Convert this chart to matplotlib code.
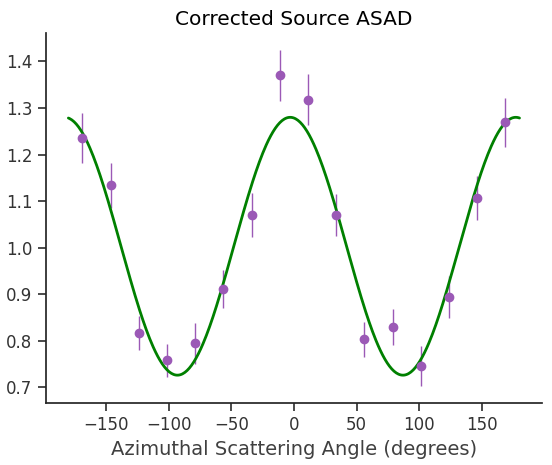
import numpy as np
import matplotlib.pyplot as plt
import seaborn as sns

# bin centres (degrees)
angles = [-168.75, -146.25, -123.75, -101.25, -78.75, -56.25, -33.75, -11.25,
          11.25, 33.75, 56.25, 78.75, 101.25, 123.75, 146.25, 168.75]
counts = [1.235, 1.134, 0.816, 0.758, 0.795, 0.911, 1.070, 1.370,
          1.318, 1.070, 0.803, 0.829, 0.745, 0.894, 1.106, 1.269]
errors = [0.054, 0.048, 0.037, 0.036, 0.044, 0.040, 0.047, 0.055,
          0.055, 0.045, 0.038, 0.039, 0.043, 0.046, 0.047, 0.052]

# fitted modulation curve parameters
fit_mean = 1.003
fit_amp = 0.277
fit_phase = -3.0

sns.set_style('ticks')
sns.set_context('notebook')

phi = np.linspace(-180, 180, 400)
fit = fit_mean + fit_amp * np.cos(np.radians(2 * (phi - fit_phase)))

fig, ax = plt.subplots(figsize=(5.52, 4.65))
ax.errorbar(angles, counts, yerr=errors, fmt='o', color='#9b59b6',
            elinewidth=1, markersize=6)
ax.plot(phi, fit, color='green', linewidth=2)
ax.set_title('Corrected Source ASAD', fontsize=14.5, color='black')
ax.set_xlabel('Azimuthal Scattering Angle (degrees)', fontsize=14, color='.25')
ax.tick_params(labelsize=12, colors='.2')
sns.despine()
fig.subplots_adjust(left=0.083, right=0.982, bottom=0.133, top=0.929)
fig.savefig('out.png', dpi=100)
